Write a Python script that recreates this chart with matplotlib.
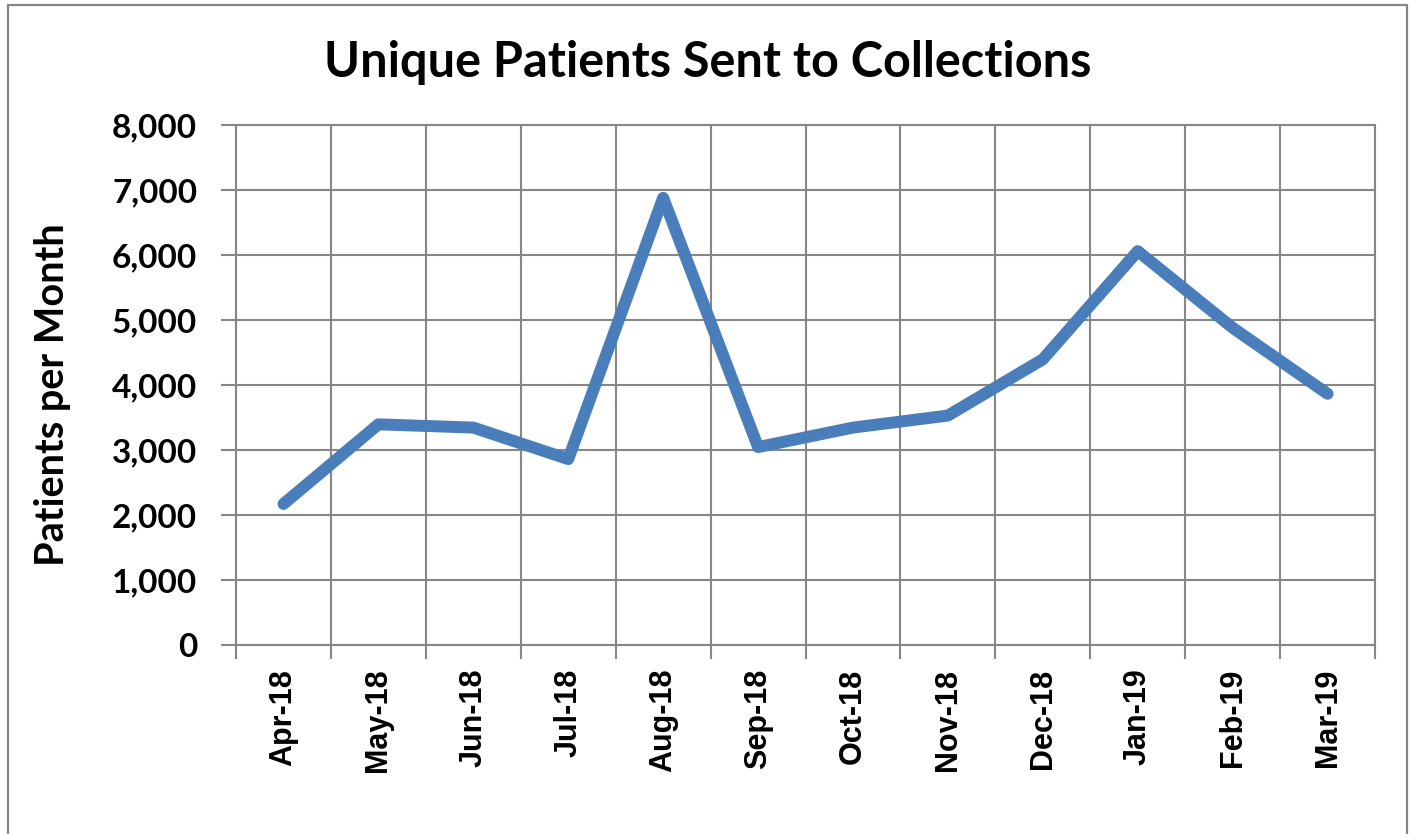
import matplotlib
matplotlib.use("Agg")
import matplotlib.pyplot as plt
from matplotlib.patches import Rectangle
from matplotlib.ticker import FuncFormatter

months = ["Apr-18", "May-18", "Jun-18", "Jul-18", "Aug-18", "Sep-18",
          "Oct-18", "Nov-18", "Dec-18", "Jan-19", "Feb-19", "Mar-19"]
patients = [2170, 3395, 3345, 2860, 6880, 3045, 3345, 3530, 4395, 6060, 4880, 3865]

grey = "#868686"
blue = "#4A7EBB"

fig = plt.figure(figsize=(14.1, 8.34), dpi=100)
ax = fig.add_axes([0.1674, 0.2266, 0.8078, 0.6235])

# outer chart frame
fig.patches.append(Rectangle((8 / 1410, -0.05), 1399 / 1410, 1.05 - 5 / 834,
                             transform=fig.transFigure, fill=False,
                             edgecolor=grey, linewidth=1.6))

x = range(len(months))
ax.plot(x, patients, color=blue, linewidth=8.6,
        solid_capstyle="round", solid_joinstyle="round", zorder=3)

ax.set_xlim(-0.5, len(months) - 0.5)
ax.set_ylim(0, 8000)
ax.set_yticks(range(0, 8001, 1000))
ax.yaxis.set_major_formatter(FuncFormatter(lambda v, p: f"{int(v):,}"))

ax.set_xticks(list(x))
ax.set_xticklabels(months, rotation=90, fontfamily="Liberation Sans",
                   fontweight="bold", fontsize=22)
ax.set_xticks([i - 0.5 for i in range(len(months) + 1)], minor=True)
ax.tick_params(axis="x", which="major", length=0, pad=17)
ax.tick_params(axis="x", which="minor", length=10, width=1.5, color=grey)
ax.tick_params(axis="y", length=11, width=1.5, color=grey, pad=17)
for lab in ax.get_yticklabels():
    lab.set_fontfamily("Lato")
    lab.set_fontweight("bold")
    lab.set_fontsize(24)

ax.grid(True, axis="y", which="major", color=grey, linewidth=1.5)
ax.grid(True, axis="x", which="minor", color=grey, linewidth=1.5)
ax.set_axisbelow(True)
for s in ax.spines.values():
    s.set_color(grey)
    s.set_linewidth(1.5)

ax.set_ylabel("Patients per Month", fontfamily="Lato", fontweight="bold",
              fontsize=28.5, va="center")
ax.yaxis.set_label_coords(-0.161, 0.481)
fig.text(0.502, 0.925, "Unique Patients Sent to Collections", ha="center",
         va="center", fontfamily="Lato", fontweight="bold", fontsize=35)

fig.savefig("out.png", dpi=100)
